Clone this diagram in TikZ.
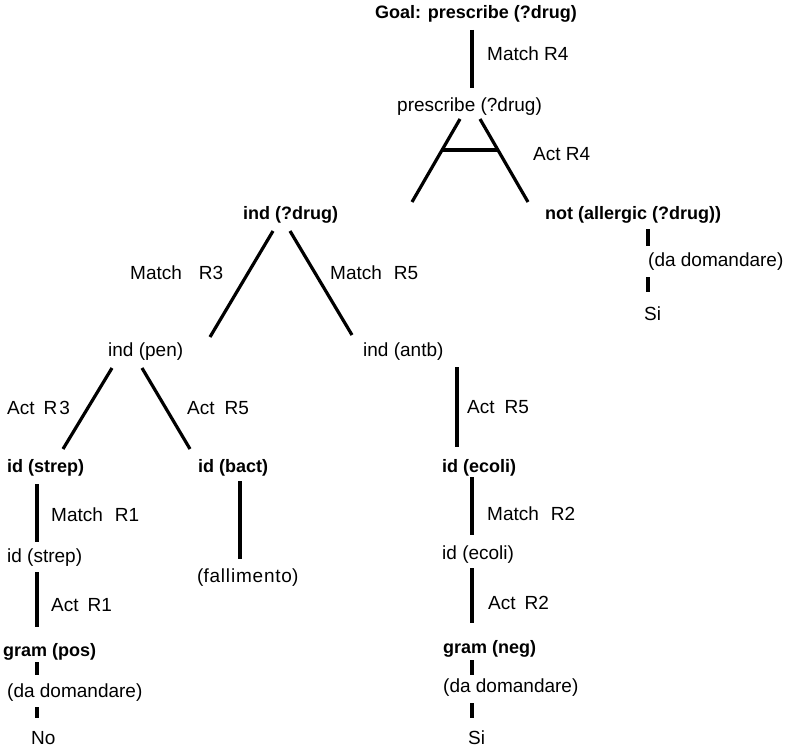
\documentclass[tikz,border=0pt]{standalone}
\usepackage{fontspec}
\setmainfont{Liberation Sans}
\begin{document}
\begin{tikzpicture}[x=1pt,y=-1pt,
  lbl/.style={anchor=west,inner sep=0pt,font=\fontsize{19}{22}\selectfont},
  blbl/.style={anchor=west,inner sep=0pt,font=\fontsize{18}{22}\selectfont\bfseries},
  edge/.style={line width=3.2pt,line cap=butt}]
\useasboundingbox (0,0) rectangle (789,749);
% nodes
\node[blbl] (goal) at (375,14) {Goal: prescribe (?drug)};
\node[lbl] (m4) at (487,54) {Match R4};
\node[lbl] (presc) at (397,107) {prescribe (?drug)};
\node[lbl] (ar4) at (533,154) {Act R4};
\node[blbl] (ind) at (243,215) {ind (?drug)};
\node[blbl] (not) at (545,215) {not (allergic (?drug))};
\node[lbl] (dd1) at (648,262) {(da domandare)};
\node[lbl] (si1) at (644,314) {Si};
\node[lbl] (m3) at (130,273) {Match\hspace{17pt}R3};
\node[lbl] (m5) at (330,273) {Match\hspace{12pt}R5};
\node[lbl] (pen) at (108,352) {ind (pen)};
\node[lbl] (antb) at (363,352) {ind (antb)};
\node[lbl] (ar3) at (7,408) {Act\hspace{9pt}R\hspace{2pt}3};
\node[lbl] (ar5a) at (187,408) {Act\hspace{10pt}R5};
\node[blbl] (strep) at (7,468) {id (strep)};
\node[blbl] (bact) at (198,468) {id (bact)};
\node[lbl] (m1) at (51,515) {Match\hspace{12pt}R1};
\node[lbl] (strep2) at (7,558) {id (strep)};
\node[lbl] (fall) at (197,578) {(f\kern0.8pt a\kern0.8pt l\kern0.8pt l\kern0.8pt i\kern0.8pt m\kern0.8pt e\kern0.8pt n\kern0.8pt t\kern0.8pt o)};
\node[lbl] (a1) at (51,605) {Act\hspace{9pt}R1};
\node[blbl] (gpos) at (3,652) {gram (pos)};
\node[lbl] (dd2) at (7,693) {(da domandare)};
\node[lbl] (no) at (31,738) {No};
\node[lbl] (ar5b) at (467,407) {Act\hspace{10pt}R5};
\node[blbl] (ecoli) at (442,468) {id (ecoli)};
\node[lbl] (m2) at (487,514) {Match\hspace{12pt}R2};
\node[lbl] (ecoli2) at (442,555) {id (ecoli)};
\node[lbl] (a2) at (488,603) {Act\hspace{9pt}R2};
\node[blbl] (gneg) at (443,649) {gram (neg)};
\node[lbl] (dd3) at (443,688) {(da domandare)};
\node[lbl] (si2) at (468,738) {Si};
% connector end points
\coordinate (g1) at (472,30);   \coordinate (g2) at (472,88);
\coordinate (p1) at (460,119);  \coordinate (p2) at (412,202);
\coordinate (p3) at (480,119);  \coordinate (p4) at (528,202);
\coordinate (b1) at (442,150);  \coordinate (b2) at (498,150);
\coordinate (i1) at (273,231);  \coordinate (i2) at (210,337);
\coordinate (i3) at (290,231);  \coordinate (i4) at (352,335);
\coordinate (n1) at (648,229);  \coordinate (n2) at (648,246);
\coordinate (n3) at (648,277);  \coordinate (n4) at (648,292);
\coordinate (q1) at (112,368);  \coordinate (q2) at (63,449);
\coordinate (q3) at (142,368);  \coordinate (q4) at (190,449);
\coordinate (a1t) at (457,367); \coordinate (a1b) at (457,447);
\coordinate (s1) at (37,484);   \coordinate (s2) at (37,542);
\coordinate (s3) at (37,572);   \coordinate (s4) at (37,627);
\coordinate (s5) at (37,662);   \coordinate (s6) at (37,675);
\coordinate (s7) at (37,707);   \coordinate (s8) at (37,718);
\coordinate (c1) at (240,481);  \coordinate (c2) at (240,559);
\coordinate (e1) at (472,477);  \coordinate (e2) at (472,535);
\coordinate (e3) at (472,568);  \coordinate (e4) at (472,623);
\coordinate (e5) at (472,660);  \coordinate (e6) at (472,675);
\coordinate (e7) at (472,703);  \coordinate (e8) at (472,718);
% connectors
\draw[edge] (g1) -- (g2);
\draw[edge] (p1) -- (p2);
\draw[edge] (p3) -- (p4);
\draw[edge] (b1) -- (b2);
\draw[edge] (i1) -- (i2);
\draw[edge] (i3) -- (i4);
\draw[edge] (n1) -- (n2);
\draw[edge] (n3) -- (n4);
\draw[edge] (q1) -- (q2);
\draw[edge] (q3) -- (q4);
\draw[edge] (a1t) -- (a1b);
\draw[edge] (s1) -- (s2);
\draw[edge] (s3) -- (s4);
\draw[edge] (s5) -- (s6);
\draw[edge] (s7) -- (s8);
\draw[edge] (c1) -- (c2);
\draw[edge] (e1) -- (e2);
\draw[edge] (e3) -- (e4);
\draw[edge] (e5) -- (e6);
\draw[edge] (e7) -- (e8);
\end{tikzpicture}
\end{document}
